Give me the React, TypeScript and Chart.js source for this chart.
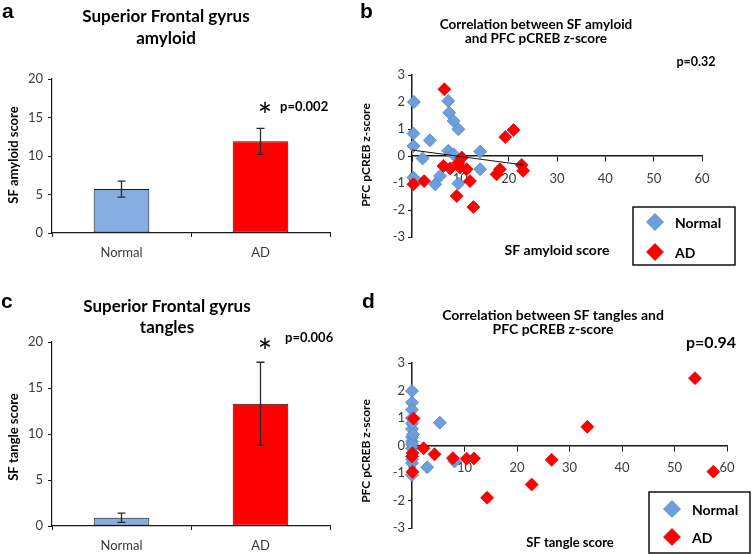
import React, { useEffect, useRef } from 'react';
import { Chart, registerables } from 'chart.js';
Chart.register(...registerables);

// ---------- data ----------
const barCategories = ['Normal', 'AD'];
const amyloidMeans = [5.7, 11.9];
const amyloidErrors = [1.05, 1.7];
const tangleMeans = [0.9, 13.3];
const tangleErrors = [0.5, 4.5];
const barYTicks = [0, 5, 10, 15, 20];

const scatterXTicks = [0, 10, 20, 30, 40, 50, 60];
const scatterYTicks = [-3, -2, -1, 0, 1, 2, 3];

// panel b: SF amyloid vs PFC pCREB z-score
const amyNormalX = [0.4, 0.3, 0.3, 2.2, 3.7, 7.5, 7.7, 8.6, 9.6, 7.5, 8.6, 5.8, 4.8, 9.6, 14.1, 14.1, 0.3];
const amyNormalY = [2.0, 0.83, 0.37, -0.09, 0.58, 2.04, 1.6, 1.3, 0.99, 0.19, 0.06, -0.74, -1.05, -1.02, 0.16, -0.49, -0.8];
const amyADX = [6.7, 0.3, 2.5, 6.5, 7.9, 9.6, 10.3, 9.9, 11.3, 12.0, 9.25, 12.7, 17.5, 18.2, 19.3, 21.0, 22.7, 23.0];
const amyADY = [2.47, -1.05, -0.93, -0.37, -0.46, -0.25, -0.06, -0.43, -0.49, -0.93, -1.48, -1.89, -0.68, -0.49, 0.7, 0.96, -0.33, -0.55];
const amyTrendX = [0, 23];
const amyTrendY = [0.22, -0.33];

// panel d: SF tangles vs PFC pCREB z-score
const tanNormalX = [0, 0, 0, 0, 5.3, 0, 0, 0, 0, 0, 0, 2.9, 8.1, 0, 0, 0, 0.2];
const tanNormalY = [1.98, 1.56, 1.3, 1.0, 0.83, 0.6, 0.3, 0.15, 0.05, -0.1, 0.8, -0.79, -0.58, -0.64, -1.07, -0.5, 0.4];
const tanADX = [53.9, 33.4, 26.6, 22.8, 14.3, 57.4, 0.3, 2.2, 4.3, 7.8, 10.4, 11.8, 0.1, 0, 0.1];
const tanADY = [2.45, 0.68, -0.52, -1.42, -1.9, -0.95, 0.98, -0.1, -0.32, -0.46, -0.48, -0.47, -0.28, -0.4, -0.96];

// ---------- styles ----------
const FONT = 'Lato, "Open Sans", sans-serif';
const LETTER_FONT = 'bold 21px "Liberation Sans", Arial, sans-serif';
const AXIS = '#1a1a1a';
const TICK = '#3a3a3a';
const BAR_BLUE = '#87AEE2';
const RED = '#FF0000';
const PT_BLUE = '#6E9EDC';
const PT_BLUE_EDGE = '#4F81BD';

const zip = (xs: number[], ys: number[]) => xs.map((x, i) => ({ x, y: ys[i] }));

type TextItem = {
  text: string; x: number; y: number; font: string;
  align?: CanvasTextAlign; baseline?: CanvasTextBaseline; rotate?: number; color?: string;
};

const textPlugin = (items: TextItem[]) => ({
  id: 'texts',
  afterDraw(chart: any) {
    const ctx = chart.ctx;
    items.forEach((it) => {
      ctx.save();
      ctx.font = it.font;
      ctx.fillStyle = it.color || '#000';
      ctx.textAlign = it.align || 'center';
      ctx.textBaseline = it.baseline || 'middle';
      ctx.translate(it.x, it.y);
      if (it.rotate) ctx.rotate(it.rotate);
      ctx.fillText(it.text, 0, 0);
      ctx.restore();
    });
  },
});

const errorBarPlugin = (errors: number[]) => ({
  id: 'errorbars',
  afterDatasetsDraw(chart: any) {
    const ctx = chart.ctx;
    const meta = chart.getDatasetMeta(0);
    const ys = chart.scales.y;
    const vals = chart.data.datasets[0].data as number[];
    ctx.save();
    ctx.strokeStyle = '#2a2a2a';
    ctx.lineWidth = 1.3;
    meta.data.forEach((bar: any, i: number) => {
      const top = ys.getPixelForValue(vals[i] + errors[i]);
      const bot = ys.getPixelForValue(vals[i] - errors[i]);
      const x = bar.x;
      ctx.beginPath();
      ctx.moveTo(x, top); ctx.lineTo(x, bot);
      ctx.moveTo(x - 4, top); ctx.lineTo(x + 4, top);
      ctx.moveTo(x - 4, bot); ctx.lineTo(x + 4, bot);
      ctx.stroke();
    });
    ctx.restore();
  },
});

type LegendBox = { x: number; y: number; w: number; h: number; rows: number[]; dx: number; tx: number };
const legendPlugin = (box: LegendBox) => ({
  id: 'boxlegend',
  afterDraw(chart: any) {
    const ctx = chart.ctx;
    ctx.save();
    ctx.fillStyle = '#fff';
    ctx.fillRect(box.x, box.y, box.w, box.h);
    ctx.strokeStyle = '#111';
    ctx.lineWidth = 1.5;
    ctx.strokeRect(box.x, box.y, box.w, box.h);
    const ds = chart.data.datasets.slice(0, 2);
    ds.forEach((d: any, i: number) => {
      const cy = box.rows[i];
      const r = 8.5;
      ctx.beginPath();
      ctx.moveTo(box.dx - r, cy); ctx.lineTo(box.dx, cy - r);
      ctx.lineTo(box.dx + r, cy); ctx.lineTo(box.dx, cy + r); ctx.closePath();
      ctx.fillStyle = d.backgroundColor;
      ctx.fill();
      ctx.strokeStyle = d.borderColor;
      ctx.lineWidth = 0.75;
      ctx.stroke();
      ctx.fillStyle = '#000';
      ctx.font = `bold 14px ${FONT}`;
      ctx.textAlign = 'left';
      ctx.textBaseline = 'middle';
      ctx.fillText(d.label, box.tx, cy + 1);
    });
    ctx.restore();
  },
});

const setTicks = (vals: number[]) => (s: any) => { s.ticks = vals.map((v) => ({ value: v })); };

function barConfig(means: number[], errors: number[], o: { top: number; xHeight: number }, texts: TextItem[]) {
  return {
    type: 'bar',
    data: {
      labels: barCategories,
      datasets: [{
        data: means,
        backgroundColor: [BAR_BLUE, RED],
        borderColor: '#1a1a1a',
        borderWidth: 1,
        borderSkipped: false,
        barPercentage: 0.4,
        categoryPercentage: 1,
      }],
    },
    options: {
      animation: false,
      responsive: false,
      layout: { padding: { left: 0, top: o.top, right: 40, bottom: 0 } },
      plugins: { legend: { display: false }, tooltip: { enabled: false } },
      scales: {
        x: {
          grid: { drawOnChartArea: false, tickLength: 4, color: AXIS, offset: true },
          border: { color: AXIS, width: 1.2 },
          ticks: { font: { family: FONT, size: 13 }, color: TICK, padding: 8 },
          afterFit: (s: any) => { s.height = o.xHeight; },
        },
        y: {
          min: 0, max: 20,
          afterBuildTicks: setTicks(barYTicks),
          grid: { drawOnChartArea: false, tickLength: 4, color: AXIS },
          border: { color: AXIS, width: 1.2 },
          ticks: { font: { family: FONT, size: 13 }, color: TICK, padding: 5 },
          afterFit: (s: any) => { s.width = 52; },
        },
      },
    },
    plugins: [errorBarPlugin(errors), textPlugin(texts)],
  };
}

function scatterConfig(
  normal: { x: number; y: number }[], ad: { x: number; y: number }[], trend: { x: number; y: number }[] | null,
  o: { top: number; right: number; bottom: number }, texts: TextItem[], legend: LegendBox,
) {
  const datasets: any[] = [
    { label: 'Normal', data: normal, pointStyle: 'rectRot', pointRadius: 6.5, backgroundColor: PT_BLUE, borderColor: PT_BLUE_EDGE, borderWidth: 0.75, order: 3, clip: false },
    { label: 'AD', data: ad, pointStyle: 'rectRot', pointRadius: 6.5, backgroundColor: RED, borderColor: '#E00000', borderWidth: 0.75, order: 2, clip: false },
  ];
  if (trend) {
    datasets.push({ label: 'trend', type: 'line', data: trend, showLine: true, borderColor: '#111', borderWidth: 1, pointRadius: 0, tension: 0, order: 1 });
  }
  return {
    type: 'scatter',
    data: { datasets },
    options: {
      animation: false,
      responsive: false,
      layout: { padding: { left: 0, top: o.top, right: o.right, bottom: o.bottom } },
      plugins: { legend: { display: false }, tooltip: { enabled: false } },
      scales: {
        x: {
          type: 'linear', position: { y: 0 }, min: 0, max: 60,
          afterBuildTicks: setTicks(scatterXTicks),
          grid: { drawOnChartArea: false, tickLength: 5, color: AXIS },
          border: { color: AXIS, width: 1.5 },
          ticks: { font: { family: FONT, size: 13 }, color: TICK, padding: 10 },
        },
        y: {
          type: 'linear', position: 'left', min: -3, max: 3,
          afterBuildTicks: setTicks(scatterYTicks),
          grid: { drawOnChartArea: false, tickLength: 4, color: AXIS },
          border: { color: AXIS, width: 1.5 },
          ticks: { font: { family: FONT, size: 13 }, color: TICK, padding: 3 },
          afterFit: (s: any) => { s.width = 57; },
        },
      },
    },
    plugins: [textPlugin(texts), legendPlugin(legend)],
  };
}

const B = (n: number) => `bold ${n}px ${FONT}`;
const ROT = -Math.PI / 2;

function Panel({ left, top, width, height, config }: { left: number; top: number; width: number; height: number; config: any }) {
  const ref = useRef<HTMLCanvasElement>(null);
  useEffect(() => {
    const c = new Chart(ref.current as HTMLCanvasElement, config);
    return () => c.destroy();
  }, []);
  return <canvas ref={ref} width={width} height={height} style={{ position: 'absolute', left, top, width, height }} />;
}

export default function App() {
  const cfgA = barConfig(amyloidMeans, amyloidErrors, { top: 79, xHeight: 47 }, [
    { text: 'a', x: 2, y: 18, font: LETTER_FONT, align: 'left', baseline: 'alphabetic' },
    { text: 'Superior Frontal gyrus', x: 166, y: 17, font: B(17) },
    { text: 'amyloid', x: 166, y: 39, font: B(17) },
    { text: 'SF amyloid score', x: 14, y: 155, font: B(13), rotate: ROT },
    { text: '*', x: 265, y: 128, font: `34px ${FONT}`, baseline: 'alphabetic' },
    { text: 'p=0.002', x: 280, y: 107, font: B(13), align: 'left' },
  ]);
  const cfgC = barConfig(tangleMeans, tangleErrors, { top: 62, xHeight: 28 }, [
    { text: 'c', x: 1, y: 28, font: LETTER_FONT, align: 'left', baseline: 'alphabetic' },
    { text: 'Superior Frontal gyrus', x: 167, y: 27, font: B(17) },
    { text: 'tangles', x: 167, y: 48, font: B(17) },
    { text: 'SF tangle score', x: 14, y: 157, font: B(13), rotate: ROT },
    { text: '*', x: 265, y: 84, font: `34px ${FONT}`, baseline: 'alphabetic' },
    { text: 'p=0.006', x: 285, y: 58, font: B(13), align: 'left' },
  ]);
  const cfgB = scatterConfig(zip(amyNormalX, amyNormalY), zip(amyADX, amyADY), zip(amyTrendX, amyTrendY),
    { top: 75, right: 52, bottom: 43 }, [
      { text: 'b', x: 5, y: 18, font: LETTER_FONT, align: 'left', baseline: 'alphabetic' },
      { text: 'Correlation between SF amyloid', x: 181, y: 25, font: B(13.5) },
      { text: 'and PFC pCREB z-score', x: 181, y: 39, font: B(13.5) },
      { text: 'p=0.32', x: 341, y: 62, font: B(12.5) },
      { text: 'SF amyloid score', x: 202, y: 250, font: B(14) },
      { text: 'PFC pCREB z-score', x: 11, y: 155, font: B(12), rotate: ROT },
    ], { x: 278, y: 207, w: 102, h: 58, rows: [222, 252], dx: 300, tx: 320 });
  const cfgD = scatterConfig(zip(tanNormalX, tanNormalY), zip(tanADX, tanADY), null,
    { top: 83, right: 27, bottom: 26 }, [
      { text: 'd', x: 7, y: 28, font: LETTER_FONT, align: 'left', baseline: 'alphabetic' },
      { text: 'Correlation between SF tangles and', x: 198, y: 35, font: B(14) },
      { text: 'PFC pCREB z-score', x: 198, y: 49, font: B(14) },
      { text: 'p=0.94', x: 356, y: 63, font: B(16) },
      { text: 'SF tangle score', x: 215, y: 263, font: B(13) },
      { text: 'PFC pCREB z-score', x: 11, y: 171, font: B(12), rotate: ROT },
    ], { x: 294, y: 212, w: 101, h: 61, rows: [229, 257], dx: 317, tx: 337 });

  return (
    <div style={{ position: 'absolute', left: 0, top: 0, width: 754, height: 554, background: '#fff', overflow: 'hidden' }}>
      <Panel left={0} top={0} width={370} height={280} config={cfgA} />
      <Panel left={355} top={0} width={399} height={280} config={cfgB} />
      <Panel left={0} top={280} width={370} height={274} config={cfgC} />
      <Panel left={355} top={280} width={399} height={274} config={cfgD} />
    </div>
  );
}
